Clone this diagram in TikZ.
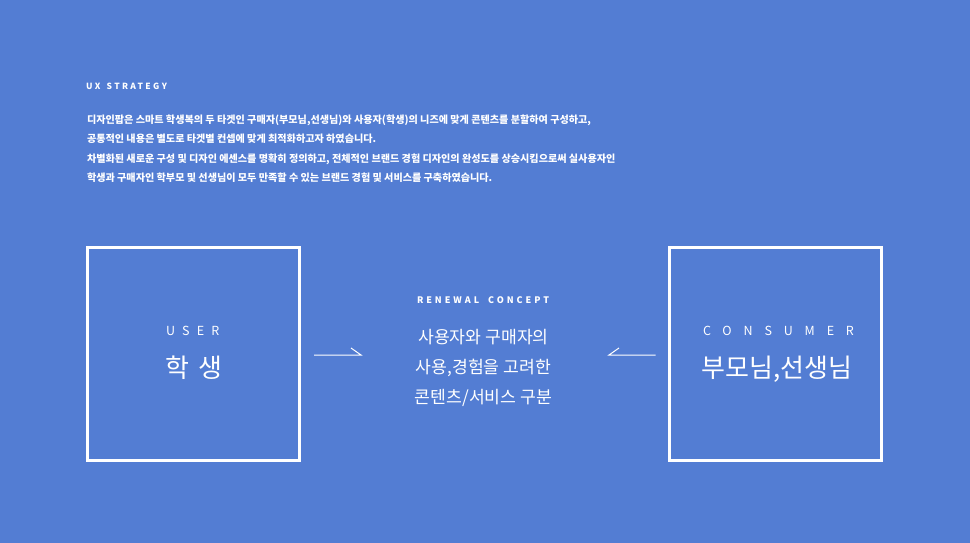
\documentclass[tikz,border=0pt]{standalone}
\usepackage{fontspec}
\setmainfont{Noto Sans CJK KR}
\newfontfamily\kr{Noto Sans CJK KR}
\newfontfamily\spA[LetterSpace=28]{Noto Sans CJK KR}
\newfontfamily\spB[LetterSpace=33]{Noto Sans CJK KR}
\newfontfamily\spUser[LetterSpace=58]{Noto Sans CJK KR}
\newfontfamily\spCons[LetterSpace=95]{Noto Sans CJK KR}
\definecolor{bg}{RGB}{83,125,211}
\begin{document}
\begin{tikzpicture}[x=1pt,y=1pt,
  every node/.style={text=white,inner sep=0pt,outer sep=0pt},
  frame/.style={draw=white,line width=3pt,minimum width=212pt,minimum height=213pt},
  para/.style={anchor=base west,font=\kr\bfseries\fontsize{10.1}{12}\selectfont},
  conn/.style={draw=white,line width=1pt}]
\useasboundingbox (0,0) rectangle (970,-543);
\fill[bg] (0,0) rectangle (970,-543);
\node[anchor=base west,font=\spA\bfseries\fontsize{8.5}{10}\selectfont] (ux) at (86,-89) {UX\hspace{2pt} STRATEGY};
\node[para] (p1) at (87,-123) {디자인팝은 스마트 학생복의 두 타겟인 구매자(부모님,선생님)와 사용자(학생)의 니즈에 맞게 콘텐츠를 분할하여 구성하고,};
\node[para] (p2) at (87,-142.5) {공통적인 내용은 별도로 타겟별 컨셉에 맞게 최적화하고자 하였습니다.};
\node[para] (p3) at (87,-162) {차별화된 새로운 구성 및 디자인 에센스를 명확히 정의하고, 전체적인 브랜드 경험 디자인의 완성도를 상승시킴으로써 실사용자인};
\node[para] (p4) at (87,-181.5) {학생과 구매자인 학부모 및 선생님이 모두 만족할 수 있는 브랜드 경험 및 서비스를 구축하였습니다.};

\node[frame] (user) at (193,-353.5) {};
\node[frame] (cons) at (775.5,-353.5) {};
\node[anchor=base west,font=\spUser\fontsize{12.5}{14}\selectfont] (userlbl) at (166,-335.5) {USER};
\node[anchor=base,font=\kr\fontsize{26}{30}\selectfont] (usertxt) at (194,-377) {학\hspace{4pt} 생};
\node[anchor=base west,font=\spCons\fontsize{12.5}{14}\selectfont] (conslbl) at (703,-335.5) {CONSUMER};
\node[anchor=base,font=\kr\fontsize{26}{30}\selectfont] (constxt) at (777,-377) {부모님,선생님};

\node[anchor=base west,font=\spB\bfseries\fontsize{9}{10}\selectfont] (ren) at (417,-303.5) {RENEWAL\hspace{4pt} CONCEPT};
\node[anchor=base,font=\kr\fontsize{17.2}{20}\selectfont] (c1) at (483.5,-343) {사용자와 구매자의};
\node[anchor=base,font=\kr\fontsize{17.2}{20}\selectfont] (c2) at (483.5,-373) {사용,경험을 고려한};
\node[anchor=base,font=\kr\fontsize{17.2}{20}\selectfont] (c3) at (483.5,-403) {콘텐츠/서비스 구분};

\coordinate (l0) at ([xshift=15pt]user.east |- 0,-355);
\coordinate (l1) at (361,-355);
\coordinate (r0) at ([xshift=-14pt]cons.west |- 0,-355);
\coordinate (r1) at (609,-355);
\draw[conn] (l0) -- (l1) -- ++(-10,7);
\draw[conn] (r0) -- (r1) -- ++(10,7);
\end{tikzpicture}
\end{document}
